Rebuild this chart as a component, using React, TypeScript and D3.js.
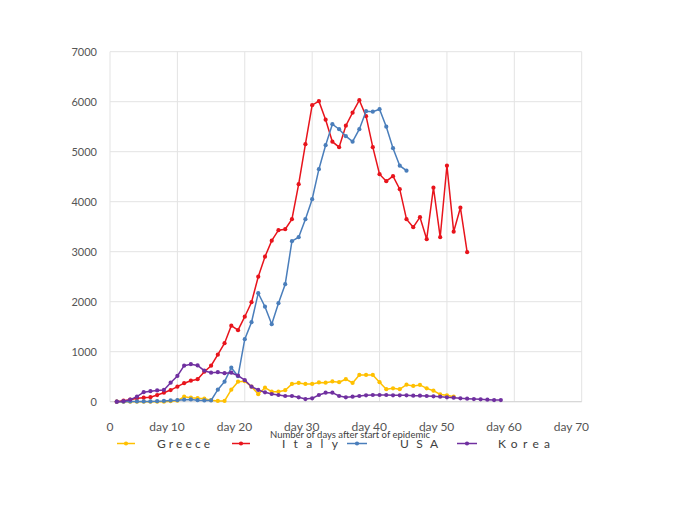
import * as d3 from "d3";
import React from "react";

// values, index 0 = day 1
const greece = [
  0, 0, 0, 0, 0, 0, 0, 0, 10, 20,
  100, 80, 70, 60, 30, 15, 15, 240, 400, 410,
  300, 150, 280, 200, 200, 230, 355, 375, 355, 355,
  385, 380, 405, 390, 450, 375, 535, 535, 535, 390,
  250, 267, 250, 340, 315, 335, 267, 220, 145, 127, 100,
];
const italy = [
  0, 20, 40, 67, 80, 90, 133, 180, 233, 300,
  370, 420, 450, 600, 720, 940, 1170, 1520, 1430, 1700,
  1990, 2500, 2900, 3220, 3430, 3450, 3650, 4350, 5150, 5930,
  6010, 5640, 5200, 5090, 5520, 5780, 6030, 5710, 5090, 4550,
  4410, 4510, 4250, 3650, 3490, 3690, 3250, 4280, 3290, 4720,
  3400, 3880, 2990,
];
const usa = [
  0, 0, 5, 5, 5, 5, 10, 15, 25, 30,
  40, 45, 30, 25, 25, 240, 400, 680, 510, 1250,
  1590, 2170, 1900, 1550, 1970, 2350, 3210, 3290, 3650, 4050,
  4650, 5130, 5550, 5450, 5310, 5200, 5450, 5810, 5800, 5850,
  5500, 5070, 4720, 4620,
];
const korea = [
  0, 10, 40, 100, 190, 210, 225, 235, 380, 515,
  720, 750, 725, 620, 580, 590, 570, 580, 520, 430,
  300, 235, 187, 154, 134, 114, 114, 87, 53, 67,
  134, 180, 180, 114, 87, 100, 114, 127, 134, 134,
  134, 127, 127, 127, 120, 120, 114, 107, 100, 87,
  80, 67, 60, 53, 47, 40, 33, 33,
];

const seriesNames = ["Greece", "Italy", "USA", "Korea"];
const seriesValues = [greece, italy, usa, korea];
const seriesColors = ["#FFC000", "#E8141C", "#4A7EBB", "#7030A0"];
const yTicks = [0, 1000, 2000, 3000, 4000, 5000, 6000, 7000];
const xTicks = [0, 10, 20, 30, 40, 50, 60, 70];
const xTitle = "Number of days after start of epidemic";

const W = 678;
const H = 510;
const left = 110;
const right = 581.7;
const top = 51.7;
const bottom = 401.7;
const font = "Lato, 'Open Sans', sans-serif";

// legend layout: line start/end, text start/width
const legendItems = [
  { x0: 117, x1: 135, tx: 157, tw: 53 },
  { x0: 232, x1: 250, tx: 282, tw: 56 },
  { x0: 347, x1: 367, tx: 400, tw: 38 },
  { x0: 457, x1: 477, tx: 498, tw: 52 },
];

const App = () => {
  const x = d3.scaleLinear().domain([0, 70]).range([left, right]);
  const y = d3.scaleLinear().domain([0, 7000]).range([bottom, top]);

  const line = d3
    .line<number>()
    .x((_, i) => x(i + 1))
    .y((d) => y(d));

  return (
    <svg
      width={W}
      height={H}
      style={{ position: "absolute", left: 0, top: 0, background: "#fff" }}
    >
      {/* grid */}
      {yTicks.map((t) => (
        <line
          key={"gy" + t}
          x1={left}
          x2={right}
          y1={y(t)}
          y2={y(t)}
          stroke="#e3e3e3"
          strokeWidth={1}
        />
      ))}
      {xTicks.map((t) => (
        <line
          key={"gx" + t}
          x1={x(t)}
          x2={x(t)}
          y1={top}
          y2={bottom}
          stroke="#e3e3e3"
          strokeWidth={1}
        />
      ))}
      <line x1={left} x2={right} y1={bottom} y2={bottom} stroke="#d4d4d4" />

      {/* y labels */}
      {yTicks.map((t) => (
        <text
          key={"yl" + t}
          x={97}
          y={y(t)}
          dy="0.35em"
          textAnchor="end"
          fontFamily={font}
          fontSize={11}
          fill="#555"
        >
          {t}
        </text>
      ))}

      {/* x labels */}
      {xTicks.map((t) =>
        t === 0 ? (
          <text
            key={"xl" + t}
            x={x(t)}
            y={431}
            textAnchor="middle"
            fontFamily={font}
            fontSize={12}
            fill="#555"
          >
            0
          </text>
        ) : (
          <text
            key={"xl" + t}
            x={x(t) + 7.4}
            y={431}
            textAnchor="end"
            fontFamily={font}
            fontSize={12}
            fill="#555"
          >
            {"day " + t}
          </text>
        )
      )}

      <text
        x={350}
        y={437.5}
        textAnchor="middle"
        fontFamily={font}
        fontSize={8.5}
        fill="#404040"
        textLength={160}
        lengthAdjust="spacingAndGlyphs"
      >
        {xTitle}
      </text>

      {/* series */}
      {seriesValues.map((vals, si) => (
        <g key={seriesNames[si]}>
          <path
            d={line(vals) || ""}
            fill="none"
            stroke={seriesColors[si]}
            strokeWidth={1.5}
          />
          {vals.map((v, i) => (
            <circle
              key={i}
              cx={x(i + 1)}
              cy={y(v)}
              r={2.1}
              fill={seriesColors[si]}
            />
          ))}
        </g>
      ))}

      {/* legend */}
      {seriesNames.map((name, si) => {
        const it = legendItems[si];
        return (
          <g key={"lg" + name}>
            <line
              x1={it.x0}
              x2={it.x1}
              y1={443.5}
              y2={443.5}
              stroke={seriesColors[si]}
              strokeWidth={1.5}
            />
            <circle
              cx={(it.x0 + it.x1) / 2}
              cy={443.5}
              r={2.1}
              fill={seriesColors[si]}
            />
            <text
              x={it.tx}
              y={448}
              fontFamily={font}
              fontSize={12}
              fill="#404040"
              textLength={it.tw}
              lengthAdjust="spacing"
            >
              {name}
            </text>
          </g>
        );
      })}
    </svg>
  );
};

export default App;
